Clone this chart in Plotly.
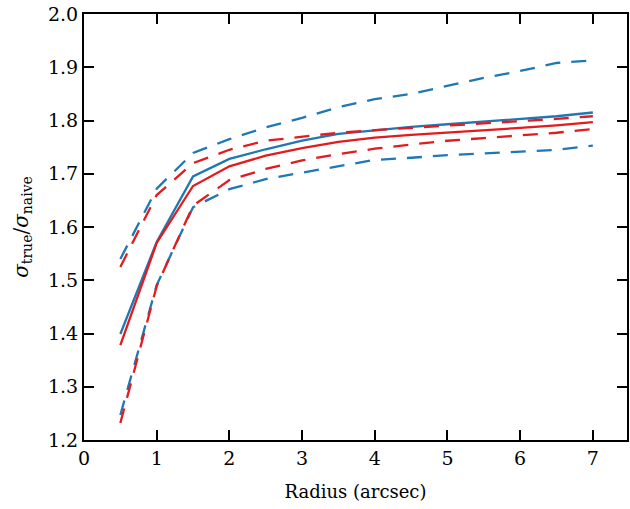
import plotly.graph_objects as go

radius = [0.5, 1.0, 1.5, 2.0, 2.5, 3.0, 3.5, 4.0, 4.5, 5.0, 5.5, 6.0, 6.5, 7.0]

blue_mid = [1.399, 1.572, 1.695, 1.728, 1.746, 1.762, 1.775, 1.782, 1.788, 1.793, 1.798, 1.802, 1.808, 1.815]
blue_hi = [1.540, 1.672, 1.739, 1.765, 1.787, 1.805, 1.825, 1.840, 1.850, 1.865, 1.880, 1.893, 1.908, 1.913]
blue_lo = [1.247, 1.491, 1.637, 1.671, 1.690, 1.702, 1.715, 1.726, 1.730, 1.735, 1.738, 1.741, 1.745, 1.753]

red_mid = [1.378, 1.570, 1.677, 1.714, 1.734, 1.748, 1.760, 1.768, 1.773, 1.777, 1.782, 1.786, 1.791, 1.797]
red_hi = [1.525, 1.660, 1.720, 1.745, 1.762, 1.770, 1.777, 1.782, 1.786, 1.790, 1.795, 1.799, 1.803, 1.808]
red_lo = [1.232, 1.489, 1.640, 1.688, 1.709, 1.725, 1.737, 1.747, 1.755, 1.762, 1.767, 1.772, 1.777, 1.784]

x_ticks = [0, 1, 2, 3, 4, 5, 6, 7]
y_ticks = [1.2, 1.3, 1.4, 1.5, 1.6, 1.7, 1.8, 1.9, 2.0]

BLUE = "#1f77b4"
RED = "#e41a1c"
DASH = "15px,11px"

fig = go.Figure()
for ys, col, dash in [
    (blue_hi, BLUE, DASH), (blue_lo, BLUE, DASH), (blue_mid, BLUE, "solid"),
    (red_hi, RED, DASH), (red_lo, RED, DASH), (red_mid, RED, "solid"),
]:
    fig.add_trace(go.Scatter(x=radius, y=ys, mode="lines",
                             line=dict(color=col, width=2.3, dash=dash),
                             showlegend=False, hoverinfo="skip"))

font = "DejaVu Serif"
axis_common = dict(
    showline=True, linecolor="black", linewidth=2, mirror="ticks",
    ticks="inside", ticklen=10, tickwidth=1.5, tickcolor="black",
    showgrid=False, zeroline=False,
    tickfont=dict(family=font, size=19, color="black"),
)
fig.update_xaxes(range=[0, 7.47], tickvals=x_ticks, ticktext=[str(v) for v in x_ticks],
                 title=dict(text="Radius (arcsec)", font=dict(family=font, size=18, color="black"), standoff=18),
                 **axis_common)
fig.update_yaxes(range=[1.2, 2.0], tickvals=y_ticks, ticktext=[f"{v:.1f}" for v in y_ticks],
                 title=dict(text="<i>σ</i><sub>true</sub>/<i>σ</i><sub>naive</sub>",
                            font=dict(family=font, size=20, color="black"), standoff=14),
                 **axis_common)
fig.update_layout(width=630, height=509, margin=dict(l=84, r=1, t=14, b=69),
                  plot_bgcolor="white", paper_bgcolor="white",
                  font=dict(family=font, color="black"))
fig.write_html("out.html", config={"displayModeBar": False},
               post_script="document.body.style.margin='0';")
